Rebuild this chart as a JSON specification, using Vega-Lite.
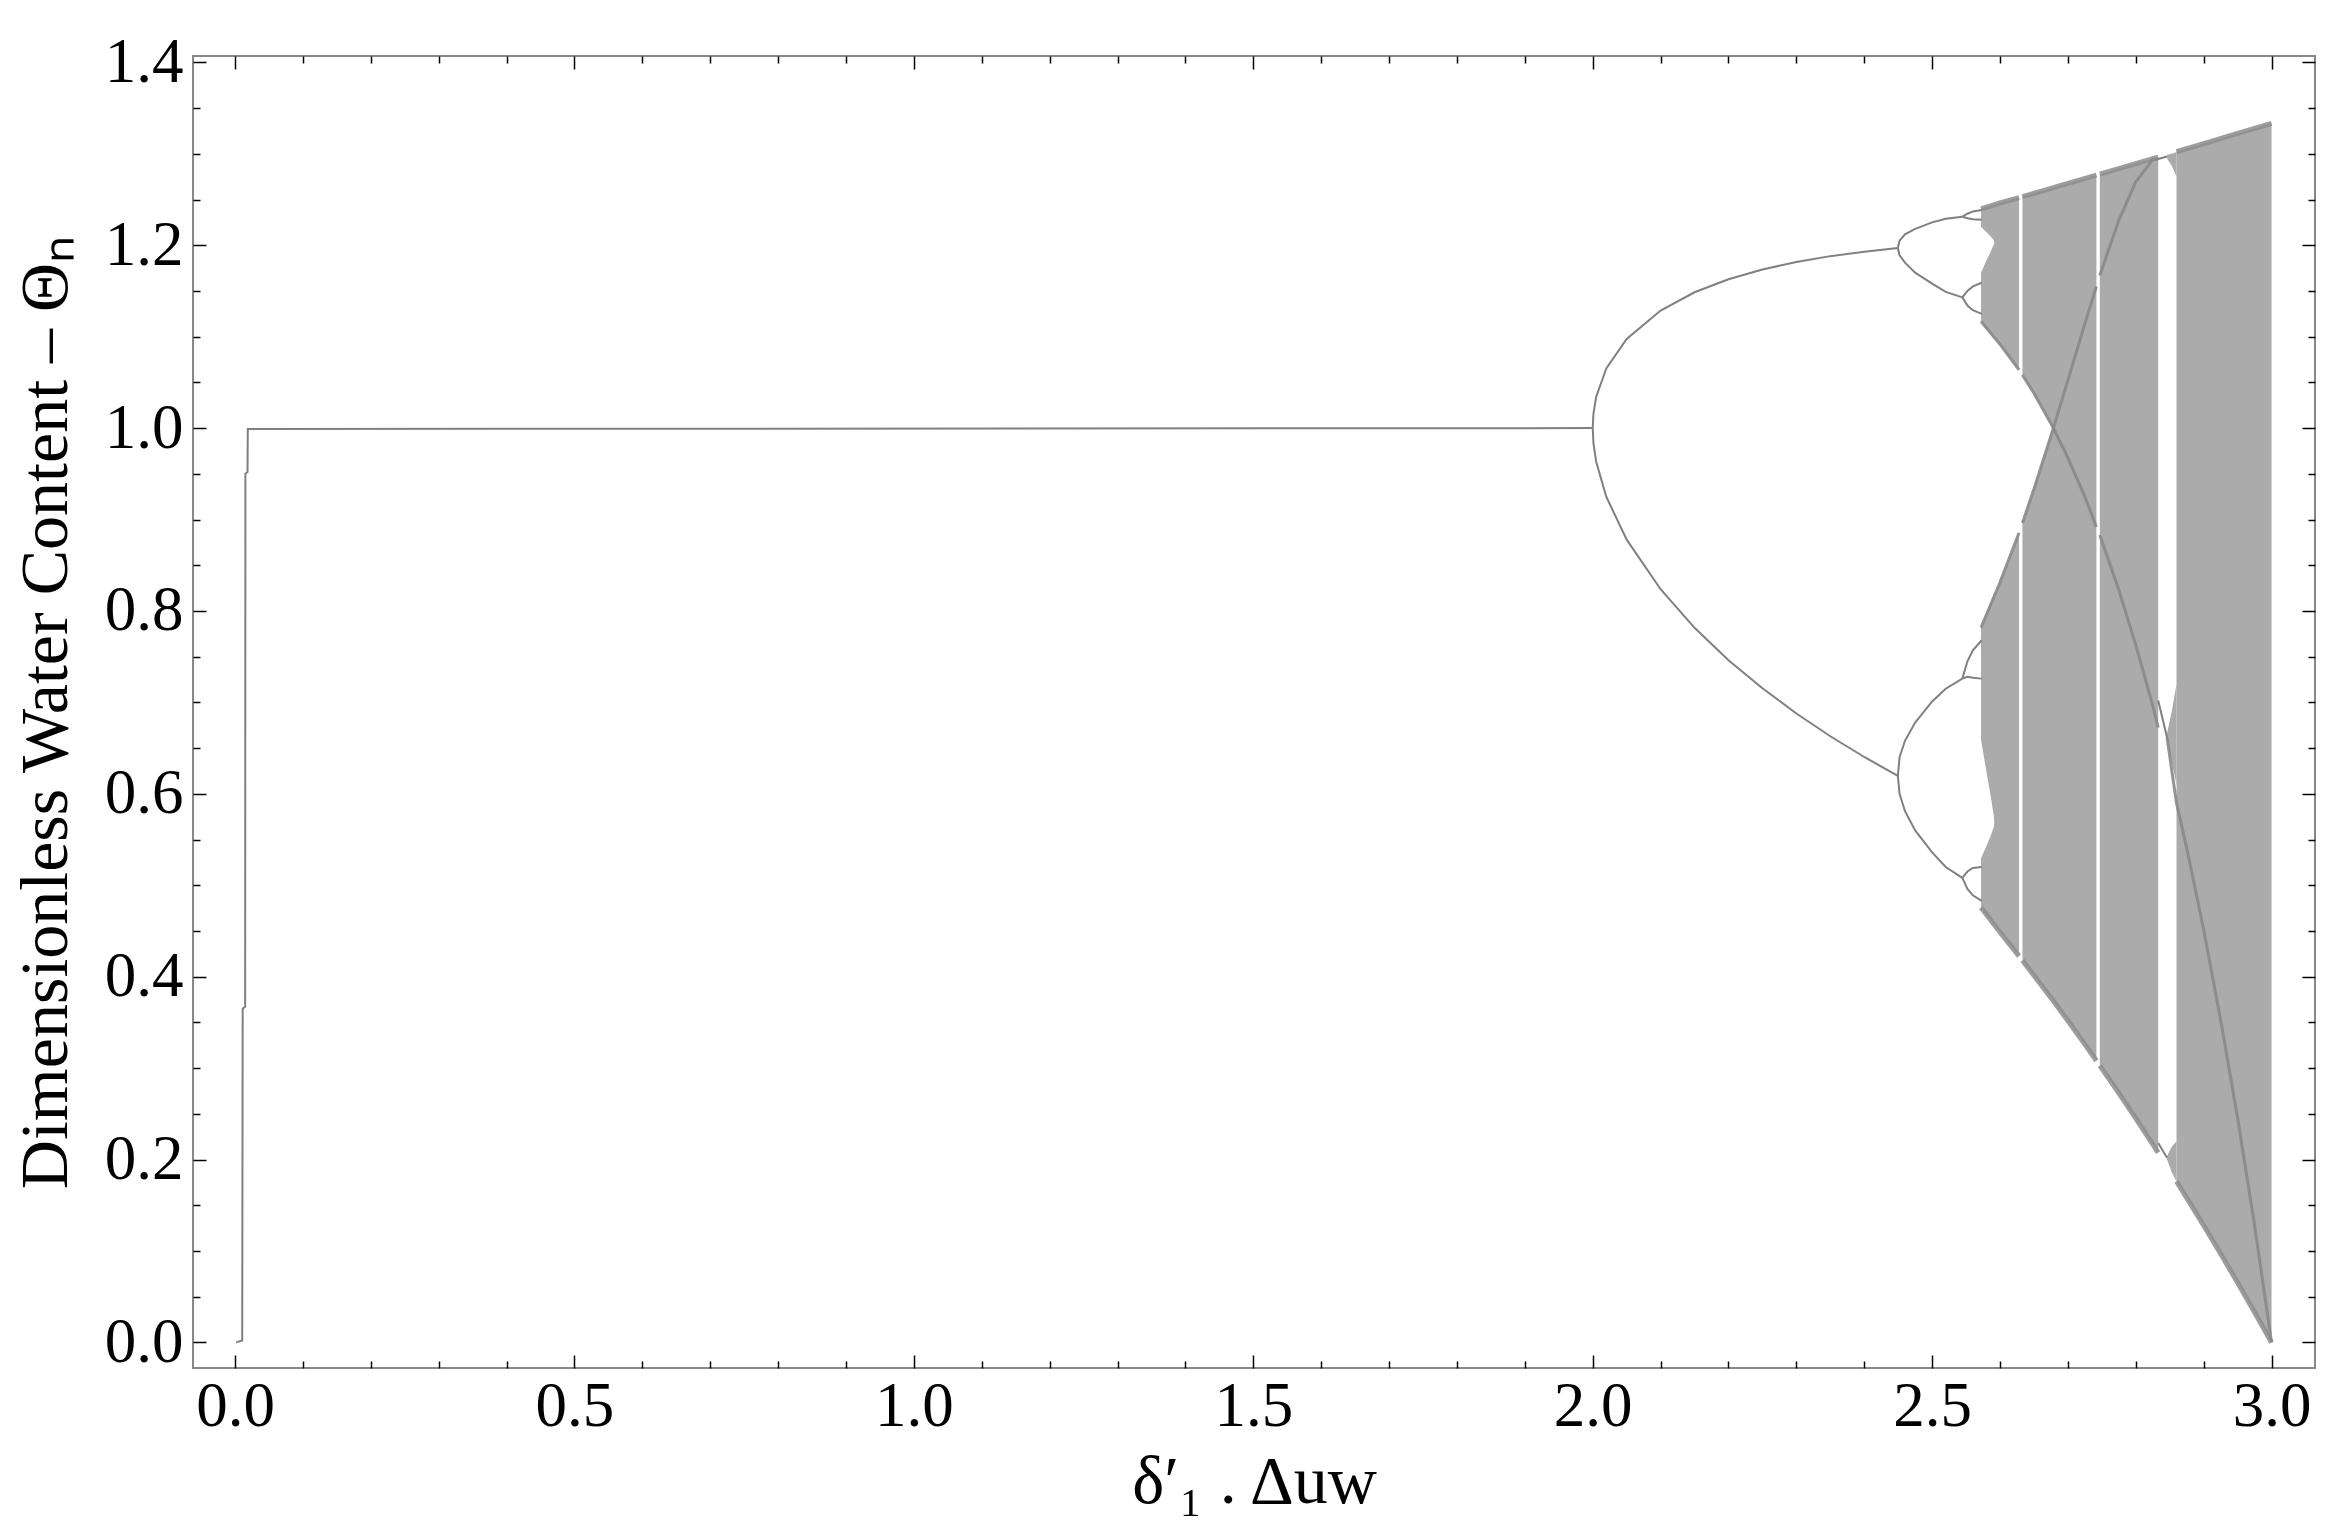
{
  "$schema": "https://vega.github.io/schema/vega-lite/v6.json",
  "width": 2122,
  "height": 1312,
  "autosize": {"type": "none"},
  "padding": {"left": 193, "top": 56, "right": 32, "bottom": 167},
  "background": "white",
  "view": {"stroke": "#888888", "strokeWidth": 2},
  "config": {
    "axis": {"domain": false, "grid": false, "tickColor": "#000000", "tickWidth": 1.5,
      "labelFont": "Liberation Serif", "labelFontSize": 63, "labelColor": "#000000",
      "titleFont": "Liberation Serif", "titleFontSize": 68, "titleFontWeight": "normal", "titleColor": "#000000",
      "labelFlush": false, "labelOverlap": false}
  },
  "datasets": {
    "bands": [
      {"seg": "S1", "r": 2.572, "lo": 1.2202, "hi": 1.2398},
      {"seg": "S1", "r": 2.580, "lo": 1.2143, "hi": 1.2419},
      {"seg": "S1", "r": 2.587, "lo": 1.2090, "hi": 1.2434},
      {"seg": "S1", "r": 2.5925, "lo": 1.2039, "hi": 1.2446},
      {"seg": "S2", "r": 2.572, "lo": 1.1167, "hi": 1.1699},
      {"seg": "S2", "r": 2.580, "lo": 1.1090, "hi": 1.1832},
      {"seg": "S2", "r": 2.587, "lo": 1.1032, "hi": 1.1942},
      {"seg": "S2", "r": 2.5925, "lo": 1.0985, "hi": 1.2038},
      {"seg": "S3", "r": 2.572, "lo": 0.6592, "hi": 0.7818},
      {"seg": "S3", "r": 2.580, "lo": 0.6241, "hi": 0.7972},
      {"seg": "S3", "r": 2.587, "lo": 0.5941, "hi": 0.8087},
      {"seg": "S3", "r": 2.5925, "lo": 0.5676, "hi": 0.8181},
      {"seg": "S4", "r": 2.572, "lo": 0.4757, "hi": 0.5296},
      {"seg": "S4", "r": 2.580, "lo": 0.4668, "hi": 0.5429},
      {"seg": "S4", "r": 2.587, "lo": 0.4605, "hi": 0.5554},
      {"seg": "S4", "r": 2.5925, "lo": 0.4555, "hi": 0.5675},
      {"seg": "U1", "r": 2.5915, "lo": 1.0991, "hi": 1.2444},
      {"seg": "U1", "r": 2.600, "lo": 1.0917, "hi": 1.2462},
      {"seg": "U1", "r": 2.615, "lo": 1.0773, "hi": 1.2494},
      {"seg": "U1", "r": 2.628, "lo": 1.0637, "hi": 1.2521},
      {"seg": "U2", "r": 2.633, "lo": 1.0581, "hi": 1.2532},
      {"seg": "U2", "r": 2.650, "lo": 1.0381, "hi": 1.2568},
      {"seg": "U2", "r": 2.665, "lo": 1.0189, "hi": 1.2601},
      {"seg": "U2", "r": 2.6786, "lo": 1.0000, "hi": 1.2630},
      {"seg": "L1", "r": 2.5915, "lo": 0.4562, "hi": 0.8163},
      {"seg": "L1", "r": 2.600, "lo": 0.4486, "hi": 0.8314},
      {"seg": "L1", "r": 2.615, "lo": 0.4347, "hi": 0.8595},
      {"seg": "L1", "r": 2.628, "lo": 0.4225, "hi": 0.8856},
      {"seg": "L2", "r": 2.633, "lo": 0.4177, "hi": 0.8963},
      {"seg": "L2", "r": 2.650, "lo": 0.4014, "hi": 0.9333},
      {"seg": "L2", "r": 2.665, "lo": 0.3868, "hi": 0.9676},
      {"seg": "L2", "r": 2.6786, "lo": 0.3733, "hi": 1.0000},
      {"seg": "M1", "r": 2.6775, "lo": 0.3743, "hi": 1.2628},
      {"seg": "M1", "r": 2.700, "lo": 0.3518, "hi": 1.2676},
      {"seg": "M1", "r": 2.725, "lo": 0.3260, "hi": 1.2730},
      {"seg": "M1", "r": 2.742, "lo": 0.3081, "hi": 1.2767},
      {"seg": "M2", "r": 2.747, "lo": 0.3028, "hi": 1.2778},
      {"seg": "M2", "r": 2.750, "lo": 0.2996, "hi": 1.2784},
      {"seg": "M2", "r": 2.775, "lo": 0.2726, "hi": 1.2838},
      {"seg": "M2", "r": 2.800, "lo": 0.2450, "hi": 1.2893},
      {"seg": "M2", "r": 2.825, "lo": 0.2167, "hi": 1.2947},
      {"seg": "M2", "r": 2.833, "lo": 0.2075, "hi": 1.2965},
      {"seg": "M3", "r": 2.860, "lo": 0.1760, "hi": 1.3024},
      {"seg": "M3", "r": 2.875, "lo": 0.1581, "hi": 1.3057},
      {"seg": "M3", "r": 2.900, "lo": 0.1279, "hi": 1.3112},
      {"seg": "M3", "r": 2.925, "lo": 0.0969, "hi": 1.3167},
      {"seg": "M3", "r": 2.950, "lo": 0.0653, "hi": 1.3223},
      {"seg": "M3", "r": 2.975, "lo": 0.0330, "hi": 1.3278},
      {"seg": "M3", "r": 3.000, "lo": 0.0000, "hi": 1.3333},
      {"seg": "W1", "r": 2.846, "lo": 0.200, "hi": 0.204},
      {"seg": "W1", "r": 2.853, "lo": 0.186, "hi": 0.214},
      {"seg": "W1", "r": 2.860, "lo": 0.176, "hi": 0.220},
      {"seg": "W2", "r": 2.846, "lo": 0.658, "hi": 0.666},
      {"seg": "W2", "r": 2.853, "lo": 0.635, "hi": 0.690},
      {"seg": "W2", "r": 2.860, "lo": 0.610, "hi": 0.720},
      {"seg": "W3", "r": 2.846, "lo": 1.295, "hi": 1.299},
      {"seg": "W3", "r": 2.853, "lo": 1.287, "hi": 1.300},
      {"seg": "W3", "r": 2.860, "lo": 1.275, "hi": 1.302}
    ],
    "edges": [
      {"seg": "T1", "r": 2.572, "v": 1.2398}, {"seg": "T1", "r": 2.600, "v": 1.2462}, {"seg": "T1", "r": 2.628, "v": 1.2521},
      {"seg": "T2", "r": 2.633, "v": 1.2532}, {"seg": "T2", "r": 2.6786, "v": 1.2630}, {"seg": "T2", "r": 2.700, "v": 1.2676}, {"seg": "T2", "r": 2.742, "v": 1.2767},
      {"seg": "T3", "r": 2.747, "v": 1.2778}, {"seg": "T3", "r": 2.800, "v": 1.2893}, {"seg": "T3", "r": 2.833, "v": 1.2965},
      {"seg": "T4", "r": 2.860, "v": 1.3024}, {"seg": "T4", "r": 2.900, "v": 1.3112}, {"seg": "T4", "r": 2.950, "v": 1.3223}, {"seg": "T4", "r": 3.000, "v": 1.3333},
      {"seg": "B1", "r": 2.572, "v": 0.4757}, {"seg": "B1", "r": 2.600, "v": 0.4486}, {"seg": "B1", "r": 2.628, "v": 0.4225},
      {"seg": "B2", "r": 2.633, "v": 0.4177}, {"seg": "B2", "r": 2.650, "v": 0.4014}, {"seg": "B2", "r": 2.6786, "v": 0.3733}, {"seg": "B2", "r": 2.700, "v": 0.3518}, {"seg": "B2", "r": 2.725, "v": 0.3260}, {"seg": "B2", "r": 2.742, "v": 0.3081},
      {"seg": "B3", "r": 2.747, "v": 0.3028}, {"seg": "B3", "r": 2.775, "v": 0.2726}, {"seg": "B3", "r": 2.800, "v": 0.2450}, {"seg": "B3", "r": 2.825, "v": 0.2167}, {"seg": "B3", "r": 2.833, "v": 0.2075},
      {"seg": "B4", "r": 2.860, "v": 0.1760}, {"seg": "B4", "r": 2.875, "v": 0.1581}, {"seg": "B4", "r": 2.900, "v": 0.1279}, {"seg": "B4", "r": 2.925, "v": 0.0969}, {"seg": "B4", "r": 2.950, "v": 0.0653}, {"seg": "B4", "r": 2.975, "v": 0.0330}, {"seg": "B4", "r": 3.000, "v": 0.0000}
    ],
    "curves": [
      {"seg": "c3a", "r": 2.6786, "v": 1.0000}, {"seg": "c3a", "r": 2.700, "v": 0.9675}, {"seg": "c3a", "r": 2.725, "v": 0.9248}, {"seg": "c3a", "r": 2.742, "v": 0.8920},
      {"seg": "c3b", "r": 2.747, "v": 0.8830}, {"seg": "c3b", "r": 2.750, "v": 0.8767}, {"seg": "c3b", "r": 2.775, "v": 0.8229}, {"seg": "c3b", "r": 2.800, "v": 0.7629}, {"seg": "c3b", "r": 2.825, "v": 0.6962}, {"seg": "c3b", "r": 2.833, "v": 0.6725},
      {"seg": "c3c", "r": 2.846, "v": 0.6620}, {"seg": "c3c", "r": 2.860, "v": 0.5896}, {"seg": "c3c", "r": 2.875, "v": 0.5408}, {"seg": "c3c", "r": 2.900, "v": 0.4514}, {"seg": "c3c", "r": 2.925, "v": 0.3529}, {"seg": "c3c", "r": 2.950, "v": 0.2454}, {"seg": "c3c", "r": 2.975, "v": 0.1279}, {"seg": "c3c", "r": 3.000, "v": 0.0000},
      {"seg": "c4a", "r": 2.6786, "v": 1.0000}, {"seg": "c4a", "r": 2.700, "v": 1.0524}, {"seg": "c4a", "r": 2.725, "v": 1.1143}, {"seg": "c4a", "r": 2.742, "v": 1.1550},
      {"seg": "c4b", "r": 2.747, "v": 1.1670}, {"seg": "c4b", "r": 2.775, "v": 1.2273}, {"seg": "c4b", "r": 2.800, "v": 1.2694}, {"seg": "c4b", "r": 2.825, "v": 1.2937}, {"seg": "c4b", "r": 2.833, "v": 1.2940},
      {"seg": "u3", "r": 2.572, "v": 1.1167}, {"seg": "u3", "r": 2.600, "v": 1.0917}, {"seg": "u3", "r": 2.628, "v": 1.0637},
      {"seg": "u3b", "r": 2.633, "v": 1.0581}, {"seg": "u3b", "r": 2.650, "v": 1.0381}, {"seg": "u3b", "r": 2.6786, "v": 1.0000},
      {"seg": "l4", "r": 2.572, "v": 0.7818}, {"seg": "l4", "r": 2.600, "v": 0.8314}, {"seg": "l4", "r": 2.628, "v": 0.8856},
      {"seg": "l4b", "r": 2.633, "v": 0.8963}, {"seg": "l4b", "r": 2.650, "v": 0.9333}, {"seg": "l4b", "r": 2.6786, "v": 1.0000}
    ],
    "lines": [
      {"branch": "fix", "r": 0.0015, "v": 0.000},
      {"branch": "fix", "r": 0.0105, "v": 0.002},
      {"branch": "fix", "r": 0.0112, "v": 0.365},
      {"branch": "fix", "r": 0.0148, "v": 0.367},
      {"branch": "fix", "r": 0.0152, "v": 0.950},
      {"branch": "fix", "r": 0.0183, "v": 0.952},
      {"branch": "fix", "r": 0.0187, "v": 0.999},
      {"branch": "fix", "r": 2.0000, "v": 1.000},
      {"branch": "p2u", "r": 2.000, "v": 1.0000}, {"branch": "p2u", "r": 2.001, "v": 1.0156}, {"branch": "p2u", "r": 2.005, "v": 1.0340},
      {"branch": "p2u", "r": 2.020, "v": 1.0652}, {"branch": "p2u", "r": 2.050, "v": 1.0976}, {"branch": "p2u", "r": 2.100, "v": 1.1286},
      {"branch": "p2u", "r": 2.150, "v": 1.1486}, {"branch": "p2u", "r": 2.200, "v": 1.1628}, {"branch": "p2u", "r": 2.250, "v": 1.1735},
      {"branch": "p2u", "r": 2.300, "v": 1.1817}, {"branch": "p2u", "r": 2.350, "v": 1.1881}, {"branch": "p2u", "r": 2.400, "v": 1.1930},
      {"branch": "p2u", "r": 2.4495, "v": 1.1969},
      {"branch": "p2l", "r": 2.000, "v": 1.0000}, {"branch": "p2l", "r": 2.001, "v": 0.9839}, {"branch": "p2l", "r": 2.005, "v": 0.9635},
      {"branch": "p2l", "r": 2.020, "v": 0.9249}, {"branch": "p2l", "r": 2.050, "v": 0.8780}, {"branch": "p2l", "r": 2.100, "v": 0.8238},
      {"branch": "p2l", "r": 2.150, "v": 0.7816}, {"branch": "p2l", "r": 2.200, "v": 0.7462}, {"branch": "p2l", "r": 2.250, "v": 0.7154},
      {"branch": "p2l", "r": 2.300, "v": 0.6879}, {"branch": "p2l", "r": 2.350, "v": 0.6630}, {"branch": "p2l", "r": 2.400, "v": 0.6403},
      {"branch": "p2l", "r": 2.4495, "v": 0.6197},
      {"branch": "p4a", "r": 2.4495, "v": 1.1969}, {"branch": "p4a", "r": 2.452, "v": 1.205}, {"branch": "p4a", "r": 2.460, "v": 1.212}, {"branch": "p4a", "r": 2.475, "v": 1.218}, {"branch": "p4a", "r": 2.500, "v": 1.225}, {"branch": "p4a", "r": 2.520, "v": 1.229}, {"branch": "p4a", "r": 2.5445, "v": 1.2312},
      {"branch": "p4b", "r": 2.4495, "v": 1.1969}, {"branch": "p4b", "r": 2.452, "v": 1.189}, {"branch": "p4b", "r": 2.460, "v": 1.181}, {"branch": "p4b", "r": 2.475, "v": 1.170}, {"branch": "p4b", "r": 2.500, "v": 1.158}, {"branch": "p4b", "r": 2.520, "v": 1.149}, {"branch": "p4b", "r": 2.5445, "v": 1.143},
      {"branch": "p4c", "r": 2.4495, "v": 0.6197}, {"branch": "p4c", "r": 2.452, "v": 0.640}, {"branch": "p4c", "r": 2.460, "v": 0.658}, {"branch": "p4c", "r": 2.475, "v": 0.678}, {"branch": "p4c", "r": 2.500, "v": 0.701}, {"branch": "p4c", "r": 2.520, "v": 0.715}, {"branch": "p4c", "r": 2.5445, "v": 0.726},
      {"branch": "p4d", "r": 2.4495, "v": 0.6197}, {"branch": "p4d", "r": 2.452, "v": 0.600}, {"branch": "p4d", "r": 2.460, "v": 0.581}, {"branch": "p4d", "r": 2.475, "v": 0.560}, {"branch": "p4d", "r": 2.500, "v": 0.536}, {"branch": "p4d", "r": 2.520, "v": 0.520}, {"branch": "p4d", "r": 2.5445, "v": 0.508},
      {"branch": "p8a1", "r": 2.5445, "v": 1.2312}, {"branch": "p8a1", "r": 2.552, "v": 1.2345}, {"branch": "p8a1", "r": 2.560, "v": 1.2370}, {"branch": "p8a1", "r": 2.573, "v": 1.2385},
      {"branch": "p8a2", "r": 2.5445, "v": 1.2312}, {"branch": "p8a2", "r": 2.552, "v": 1.2295}, {"branch": "p8a2", "r": 2.560, "v": 1.2285}, {"branch": "p8a2", "r": 2.573, "v": 1.2280},
      {"branch": "p8b1", "r": 2.5445, "v": 1.143}, {"branch": "p8b1", "r": 2.552, "v": 1.150}, {"branch": "p8b1", "r": 2.560, "v": 1.155}, {"branch": "p8b1", "r": 2.573, "v": 1.159},
      {"branch": "p8b2", "r": 2.5445, "v": 1.143}, {"branch": "p8b2", "r": 2.552, "v": 1.134}, {"branch": "p8b2", "r": 2.560, "v": 1.129}, {"branch": "p8b2", "r": 2.573, "v": 1.125},
      {"branch": "p8c1", "r": 2.5445, "v": 0.726}, {"branch": "p8c1", "r": 2.552, "v": 0.745}, {"branch": "p8c1", "r": 2.560, "v": 0.757}, {"branch": "p8c1", "r": 2.573, "v": 0.768},
      {"branch": "p8c2", "r": 2.5445, "v": 0.726}, {"branch": "p8c2", "r": 2.552, "v": 0.728}, {"branch": "p8c2", "r": 2.560, "v": 0.727}, {"branch": "p8c2", "r": 2.573, "v": 0.726},
      {"branch": "p8d1", "r": 2.5445, "v": 0.508}, {"branch": "p8d1", "r": 2.552, "v": 0.515}, {"branch": "p8d1", "r": 2.560, "v": 0.519}, {"branch": "p8d1", "r": 2.573, "v": 0.520},
      {"branch": "p8d2", "r": 2.5445, "v": 0.508}, {"branch": "p8d2", "r": 2.552, "v": 0.496}, {"branch": "p8d2", "r": 2.560, "v": 0.489}, {"branch": "p8d2", "r": 2.573, "v": 0.483},
      {"branch": "w3top", "r": 2.833, "v": 1.2944}, {"branch": "w3top", "r": 2.846, "v": 1.2970},
      {"branch": "w3mid", "r": 2.833, "v": 0.702}, {"branch": "w3mid", "r": 2.846, "v": 0.662},
      {"branch": "w3low", "r": 2.833, "v": 0.218}, {"branch": "w3low", "r": 2.846, "v": 0.202}
    ]
  },
  "resolve": {"axis": {"x": "independent", "y": "independent"}},
  "layer": [
    {
      "data": {"name": "bands"},
      "mark": {"type": "area", "color": "#ababab", "opacity": 1},
      "encoding": {
        "x": {"field": "r", "type": "quantitative",
          "scale": {"domain": [-0.062, 3.064], "nice": false, "zero": false},
          "axis": {"orient": "bottom", "values": [0, 0.5, 1, 1.5, 2, 2.5, 3], "format": ".1f", "tickSize": -13, "labelPadding": 20,
            "title": "δ′₁ . Δuw", "titlePadding": 10}},
        "y": {"field": "lo", "type": "quantitative",
          "scale": {"domain": [-0.028, 1.407], "nice": false, "zero": false},
          "axis": {"orient": "left", "values": [0, 0.2, 0.4, 0.6, 0.8, 1, 1.2, 1.4], "format": ".1f", "tickSize": -13, "labelPadding": 23,
            "title": "Dimensionless Water Content – Θₙ", "titlePadding": 24}},
        "y2": {"field": "hi"},
        "detail": {"field": "seg"}
      }
    },
    {
      "data": {"name": "edges"},
      "mark": {"type": "line", "color": "#8c8c8c", "strokeWidth": 5, "opacity": 0.85},
      "encoding": {
        "x": {"field": "r", "type": "quantitative",
          "scale": {"domain": [-0.062, 3.064], "nice": false, "zero": false},
          "axis": {"orient": "bottom", "values": [0.1, 0.2, 0.3, 0.4, 0.6, 0.7, 0.8, 0.9, 1.1, 1.2, 1.3, 1.4, 1.6, 1.7, 1.8, 1.9, 2.1, 2.2, 2.3, 2.4, 2.6, 2.7, 2.8, 2.9],
            "labels": false, "tickSize": -7, "title": null}},
        "y": {"field": "v", "type": "quantitative",
          "scale": {"domain": [-0.028, 1.407], "nice": false, "zero": false},
          "axis": {"orient": "left", "values": [0.05, 0.1, 0.15, 0.25, 0.3, 0.35, 0.45, 0.5, 0.55, 0.65, 0.7, 0.75, 0.85, 0.9, 0.95, 1.05, 1.1, 1.15, 1.25, 1.3, 1.35],
            "labels": false, "tickSize": -7, "title": null}},
        "detail": {"field": "seg"}
      }
    },
    {
      "data": {"name": "curves"},
      "mark": {"type": "line", "color": "#888888", "strokeWidth": 3, "opacity": 0.9},
      "encoding": {
        "x": {"field": "r", "type": "quantitative",
          "scale": {"domain": [-0.062, 3.064], "nice": false, "zero": false},
          "axis": {"orient": "top", "values": [0.1, 0.2, 0.3, 0.4, 0.6, 0.7, 0.8, 0.9, 1.1, 1.2, 1.3, 1.4, 1.6, 1.7, 1.8, 1.9, 2.1, 2.2, 2.3, 2.4, 2.6, 2.7, 2.8, 2.9],
            "labels": false, "tickSize": -7, "title": null}},
        "y": {"field": "v", "type": "quantitative",
          "scale": {"domain": [-0.028, 1.407], "nice": false, "zero": false},
          "axis": {"orient": "right", "values": [0.05, 0.1, 0.15, 0.25, 0.3, 0.35, 0.45, 0.5, 0.55, 0.65, 0.7, 0.75, 0.85, 0.9, 0.95, 1.05, 1.1, 1.15, 1.25, 1.3, 1.35],
            "labels": false, "tickSize": -7, "title": null}},
        "detail": {"field": "seg"}
      }
    },
    {
      "data": {"name": "lines"},
      "mark": {"type": "line", "color": "#808080", "strokeWidth": 2},
      "encoding": {
        "x": {"field": "r", "type": "quantitative",
          "scale": {"domain": [-0.062, 3.064], "nice": false, "zero": false},
          "axis": {"orient": "top", "values": [0, 0.5, 1, 1.5, 2, 2.5, 3], "labels": false, "tickSize": -13, "title": null}},
        "y": {"field": "v", "type": "quantitative",
          "scale": {"domain": [-0.028, 1.407], "nice": false, "zero": false},
          "axis": {"orient": "right", "values": [0, 0.2, 0.4, 0.6, 0.8, 1, 1.2, 1.4], "labels": false, "tickSize": -13, "title": null}},
        "detail": {"field": "branch"}
      }
    }
  ]
}
